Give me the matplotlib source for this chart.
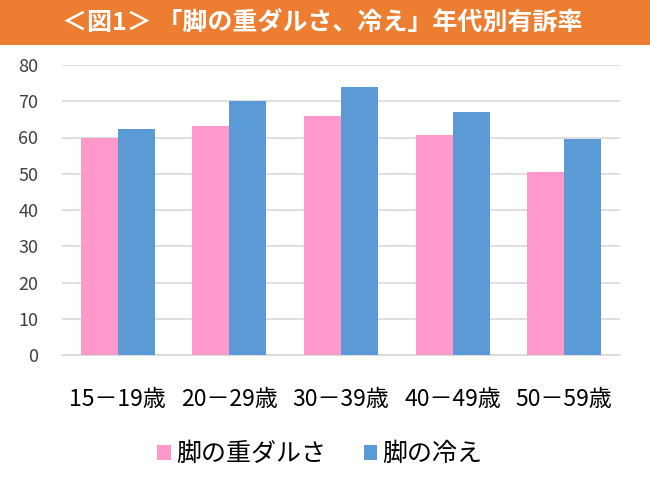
import numpy as np
import matplotlib
matplotlib.use('Agg')
import matplotlib.pyplot as plt
from matplotlib.patches import Rectangle

plt.rcParams['font.family'] = ['Noto Sans CJK JP', 'DejaVu Sans']

# ── data ──
categories = ['15－19歳', '20－29歳', '30－39歳', '40－49歳', '50－59歳']
heaviness = [60.0, 63.3, 66.0, 60.8, 50.6]
coldness = [62.3, 70.0, 73.9, 67.1, 59.7]
series_names = ['脚の重ダルさ', '脚の冷え']
title = '＜図1＞ 「脚の重ダルさ、冷え」年代別有訴率'

pink = '#FF99CC'
blue = '#5B9BD5'
orange = '#ED7D31'

fig = plt.figure(figsize=(6.5, 4.93), dpi=100, facecolor='white')

# orange title banner
fig.patches.append(Rectangle((0, 1 - 45 / 493), 1, 45 / 493, transform=fig.transFigure,
                             facecolor=orange, edgecolor='none', zorder=0))
fig.text(322 / 650, 1 - 23 / 493, title, ha='center', va='center', color='white',
         fontsize=18, fontweight='bold')

ax = fig.add_axes([62 / 650, 1 - 355 / 493, (620 - 62) / 650, (355 - 65) / 493])
x = np.arange(len(categories))
w = 0.332
ax.bar(x - w / 2, heaviness, w, color=pink, label=series_names[0], zorder=3)
ax.bar(x + w / 2, coldness, w, color=blue, label=series_names[1], zorder=3)

ax.set_xlim(-0.5, len(categories) - 0.5)
ax.set_ylim(0, 80)
ax.set_yticks(np.arange(0, 81, 10))
ax.yaxis.grid(True, color='#D9D9D9', linewidth=1.2, zorder=0)
for s in ['top', 'right', 'left']:
    ax.spines[s].set_visible(False)
ax.spines['bottom'].set_color('#D9D9D9')
ax.spines['bottom'].set_linewidth(1.2)
ax.tick_params(axis='y', length=0, labelsize=13, colors='#404040', pad=17)
ax.tick_params(axis='x', length=0, labelsize=16.5, colors='black', pad=24)
ax.set_xticks(x)
ax.set_xticklabels(categories)

ax.legend(loc='upper center', bbox_to_anchor=(0.462, -0.22), ncol=2, frameon=False,
          fontsize=18, handlelength=0.55, handleheight=0.55, handletextpad=0.2,
          columnspacing=1.5)

fig.savefig('out.png', dpi=100, facecolor='white')
